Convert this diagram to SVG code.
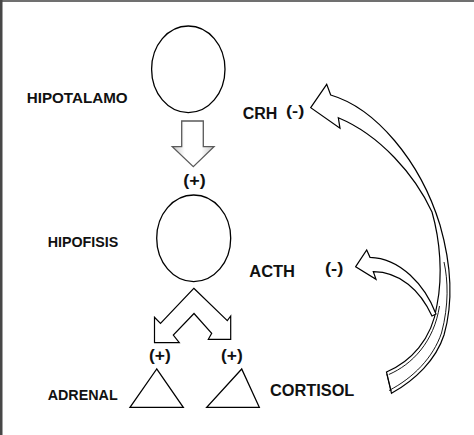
<svg xmlns="http://www.w3.org/2000/svg" width="474" height="435" viewBox="0 0 474 435">
<defs>
<linearGradient id="gShade" x1="0" y1="0" x2="1" y2="0">
<stop offset="0" stop-color="#c4c4c4"/>
<stop offset="0.3" stop-color="#ffffff"/>
<stop offset="0.7" stop-color="#ffffff"/>
<stop offset="1" stop-color="#c4c4c4"/>
</linearGradient>
</defs>
<style>
.lbl{font-family:"Liberation Sans",Arial,sans-serif;font-weight:bold;fill:#111;}
.shape{fill:#fff;stroke:#000;stroke-width:1.3;}
.arr{fill:#fff;stroke:#000;stroke-width:1.2;stroke-linejoin:miter;}
.dbl{fill:none;stroke:#000;stroke-width:0.9;}
</style>
<rect x="0" y="0" width="474" height="435" fill="#fff"/>
<rect x="0" y="0" width="474" height="2" fill="#707070"/>
<rect x="0" y="0" width="2.5" height="435" fill="#474747"/>

<g id="hipotalamo">
<ellipse class="shape" cx="188.3" cy="69.3" rx="36.7" ry="43.3"/>
<text class="lbl" x="26.7" y="102.7" font-size="15" textLength="101" lengthAdjust="spacingAndGlyphs">HIPOTALAMO</text>
</g>
<g id="hipofisis">
<ellipse class="shape" cx="193.7" cy="238.3" rx="37" ry="43.3"/>
<text class="lbl" x="47.7" y="247.3" font-size="14.5" textLength="70.6" lengthAdjust="spacingAndGlyphs">HIPOFISIS</text>
</g>
<g id="adrenal">
<polygon class="shape" points="156.7,369 130,407.3 183.3,407.3"/>
<polygon class="shape" points="241.7,369 206.7,407.3 259.3,407.3"/>
<text class="lbl" x="47.7" y="400" font-size="14.5" textLength="70" lengthAdjust="spacingAndGlyphs">ADRENAL</text>
</g>
<g id="labels">
<text class="lbl" x="242.7" y="119.3" font-size="16" textLength="34.6" lengthAdjust="spacingAndGlyphs">CRH</text>
<text class="lbl" x="286" y="116.3" font-size="15.5" textLength="18.3" lengthAdjust="spacingAndGlyphs">(-)</text>
<text class="lbl" x="183.3" y="185.5" font-size="16.5" textLength="22.4" lengthAdjust="spacingAndGlyphs">(+)</text>
<text class="lbl" x="249.3" y="276.7" font-size="16" textLength="45.7" lengthAdjust="spacingAndGlyphs">ACTH</text>
<text class="lbl" x="325" y="274" font-size="16" textLength="18.3" lengthAdjust="spacingAndGlyphs">(-)</text>
<text class="lbl" x="149" y="361" font-size="16" textLength="21.7" lengthAdjust="spacingAndGlyphs">(+)</text>
<text class="lbl" x="221" y="361" font-size="16" textLength="21.7" lengthAdjust="spacingAndGlyphs">(+)</text>
<text class="lbl" x="270" y="396" font-size="16.5" textLength="84.3" lengthAdjust="spacingAndGlyphs">CORTISOL</text>
</g>

<g id="connectors">
<path d="M181.7,121 L203.3,121 L203.3,146.7 L214,146.7 L193.3,166.7 L172.3,146.7 L181.7,146.7 Z" fill="url(#gShade)" stroke="#5a5a5a" stroke-width="1.3" stroke-linejoin="miter"/>
<path class="arr" d="M193.8,288.3 L227.3,320.7 L230.7,316 L230.7,339.3 L208.3,339.3 L211.7,333.3 L194,313.5 L173.3,335 L179.3,342.7 L154.5,342.7 L154.5,317.3 L160.5,323.3 Z"/>
<path class="arr" d="M310.7,107.7 L326.7,84.3 L330.7,95 C375,108 420,160 440,225 C450,260 454,300 444,335 C436,360 415,380 391.5,393.3 L386.5,372 C410,362 432,340 437,305 C443,275 440,240 432,212 C415,175 380,135 338.3,117.7 L340,128.3 Z"/>
<path class="dbl" d="M389,390.5 C413,378 433,358 441.5,333 C449,305 448,280 444,262"/>
<path class="dbl" d="M388.8,374.5 C412,364.5 434,342 439.5,306"/>
<path class="dbl" d="M386.8,374 L391,391"/>
<path class="arr" d="M355.7,266.7 L366.7,250 L370,257.3 C400,258 425,285 436,314 L432,316 C420,290 400,272 373.3,271.7 L376,279.3 Z"/>
</g>
</svg>
